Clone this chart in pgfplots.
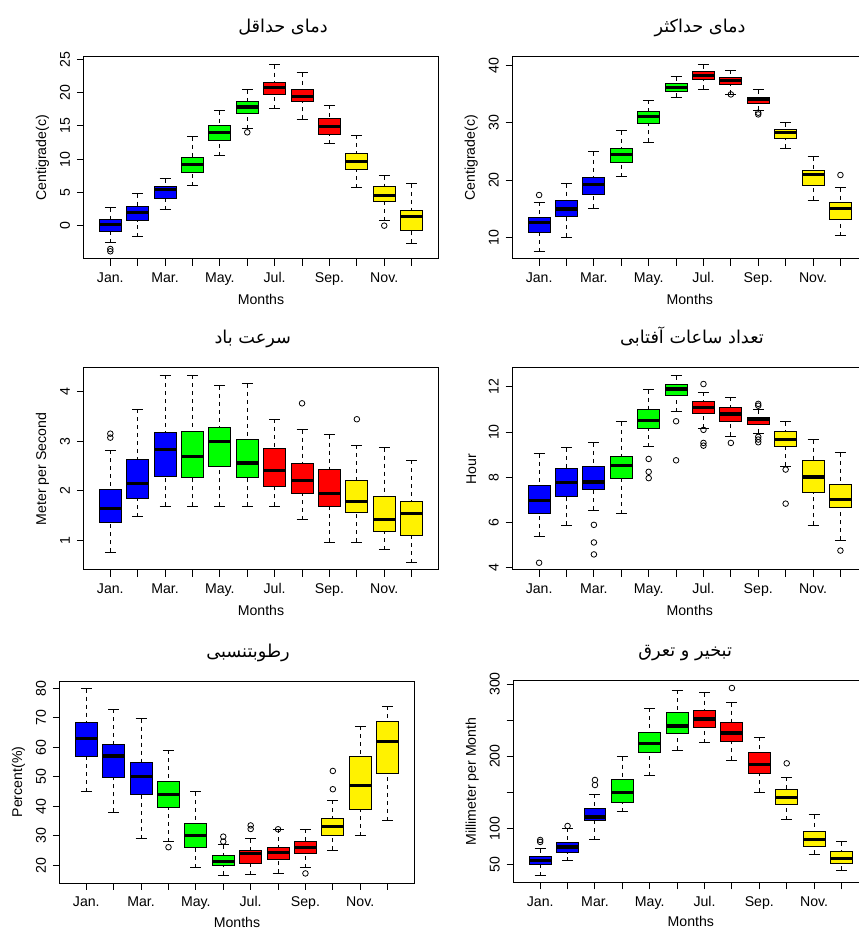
\documentclass[border=0pt]{standalone}
\usepackage{fontspec}
\setmainfont{Liberation Sans}
\newfontfamily\arabicfont[Script=Arabic]{DejaVu Sans}
\TeXXeTstate=1
\usepackage{pgfplots}
\pgfplotsset{compat=1.18}
\usepgfplotslibrary{statistics}
\newcommand\tk{\fontsize{10.6}{12}\selectfont}
\newcommand\tf{\arabicfont\fontsize{13.3}{15}\selectfont}
\pgfplotsset{
  boxplot/box extend=0.8,
  boxplot/whisker extend=0.4,
  boxplot/draw/median/.code={%
    \draw[line width=2.4pt,draw=black,solid,fill=none]
      (boxplot box cs:\pgfplotsboxplotvalue{median},0) --
      (boxplot box cs:\pgfplotsboxplotvalue{median},1);},
  boxplot/draw/lower whisker/.code={%
    \draw[line width=0.75pt,draw=black,dash pattern=on 3pt off 3pt,fill=none]
      (boxplot box cs:\pgfplotsboxplotvalue{lower whisker},0.5) --
      (boxplot box cs:\pgfplotsboxplotvalue{lower quartile},0.5);
    \draw[line width=0.75pt,draw=black,solid,fill=none]
      (boxplot whisker cs:\pgfplotsboxplotvalue{lower whisker},0) --
      (boxplot whisker cs:\pgfplotsboxplotvalue{lower whisker},1);},
  boxplot/draw/upper whisker/.code={%
    \draw[line width=0.75pt,draw=black,dash pattern=on 3pt off 3pt,fill=none]
      (boxplot box cs:\pgfplotsboxplotvalue{upper whisker},0.5) --
      (boxplot box cs:\pgfplotsboxplotvalue{upper quartile},0.5);
    \draw[line width=0.75pt,draw=black,solid,fill=none]
      (boxplot whisker cs:\pgfplotsboxplotvalue{upper whisker},0) --
      (boxplot whisker cs:\pgfplotsboxplotvalue{upper whisker},1);},
  boxplot/draw/box/.code={%
    \draw[line width=0.75pt,draw=black,solid]
      (boxplot box cs:\pgfplotsboxplotvalue{lower quartile},0) rectangle
      (boxplot box cs:\pgfplotsboxplotvalue{upper quartile},1);},
  bp/.style={boxplot/draw direction=y, fill=#1, draw=black, line width=0.75pt, solid,
    mark=o, mark size=2.1pt, mark options={solid, fill=none, draw=black, line width=0.6pt}},
  pan/.style={anchor=south west, scale only axis, width=266.25pt, height=151.5pt,
    xmin=0.02, xmax=12.98,
    xtick={1,...,12}, xticklabels={Jan.,,Mar.,,May.,,Jul.,,Sep.,,Nov.,},
    tick pos=left, tick align=outside, major tick length=5pt,
    every tick/.append style={black, line width=0.75pt},
    axis line style={line width=0.75pt, black},
    tick label style={font=\tk},
    yticklabel style={rotate=90, anchor=base},
    xticklabel style={anchor=base},
    xticklabel shift=12.8pt,
    yticklabel shift=5.2pt,
    xlabel={Months},
    xlabel style={at={(axis description cs:0.5,-0.2277)}, anchor=base, font=\tk},
    ylabel style={at={(axis description cs:-0.1155,0.5)}, anchor=center, font=\tk},
    title style={anchor=base, yshift=12pt, font=\tf},
    clip=true},
}
\begin{document}
\begin{tikzpicture}
\useasboundingbox (0,0) rectangle (643.5pt,697.5pt);
% ---------------- Panel 1: min temperature
\begin{axis}[pan, at={(62.6pt,503.25pt)}, ymin=-4.95, ymax=25.35,
  ytick={-5,0,5,10,15,20,25}, yticklabels={-5,0,5,10,15,20,25},
  ylabel={Centigrade(c)},
  title={\beginR دمای حداقل\endR}, title style={at={(axis description cs:0.562,1)}}]
\addplot[bp=blue, boxplot prepared={draw position=1, lower whisker=-2.5, lower quartile=-0.8, median=0.2, upper quartile=0.95, upper whisker=2.75}] coordinates {(0,-3.45) (0,-3.8)};
\addplot[bp=blue, boxplot prepared={draw position=2, lower whisker=-1.65, lower quartile=0.8, median=2.05, upper quartile=2.85, upper whisker=4.85}] coordinates {};
\addplot[bp=blue, boxplot prepared={draw position=3, lower whisker=2.45, lower quartile=4.15, median=5.45, upper quartile=5.85, upper whisker=7.1}] coordinates {};
\addplot[bp=green, boxplot prepared={draw position=4, lower whisker=6.0, lower quartile=8.0, median=9.25, upper quartile=10.25, upper whisker=13.35}] coordinates {};
\addplot[bp=green, boxplot prepared={draw position=5, lower whisker=10.55, lower quartile=12.8, median=14.05, upper quartile=15.0, upper whisker=17.3}] coordinates {};
\addplot[bp=green, boxplot prepared={draw position=6, lower whisker=14.6, lower quartile=16.85, median=17.85, upper quartile=18.7, upper whisker=20.4}] coordinates {(0,14.05)};
\addplot[bp=red, boxplot prepared={draw position=7, lower whisker=17.6, lower quartile=19.7, median=20.75, upper quartile=21.5, upper whisker=24.2}] coordinates {};
\addplot[bp=red, boxplot prepared={draw position=8, lower whisker=16.0, lower quartile=18.7, median=19.45, upper quartile=20.4, upper whisker=22.95}] coordinates {};
\addplot[bp=red, boxplot prepared={draw position=9, lower whisker=12.35, lower quartile=13.7, median=14.95, upper quartile=16.15, upper whisker=18.1}] coordinates {};
\addplot[bp=yellow, boxplot prepared={draw position=10, lower whisker=5.75, lower quartile=8.5, median=9.7, upper quartile=10.8, upper whisker=13.6}] coordinates {};
\addplot[bp=yellow, boxplot prepared={draw position=11, lower whisker=0.8, lower quartile=3.65, median=4.6, upper quartile=5.85, upper whisker=7.55}] coordinates {(0,0.05)};
\addplot[bp=yellow, boxplot prepared={draw position=12, lower whisker=-2.6, lower quartile=-0.65, median=1.45, upper quartile=2.25, upper whisker=6.3}] coordinates {};
\end{axis}
% ---------------- Panel 2: max temperature
\begin{axis}[pan, at={(384.2pt,503.25pt)}, ymin=6.2, ymax=41.55,
  ytick={10,20,30,40}, yticklabels={10,20,30,40},
  ylabel={Centigrade(c)},
  title={\beginR دمای حداکثر\endR}, title style={at={(axis description cs:0.529,1)}}]
\addplot[bp=blue, boxplot prepared={draw position=1, lower whisker=7.5, lower quartile=10.8, median=12.55, upper quartile=13.5, upper whisker=16.1}] coordinates {(0,17.4)};
\addplot[bp=blue, boxplot prepared={draw position=2, lower whisker=10.0, lower quartile=13.65, median=14.95, upper quartile=16.5, upper whisker=19.4}] coordinates {};
\addplot[bp=blue, boxplot prepared={draw position=3, lower whisker=15.05, lower quartile=17.5, median=19.25, upper quartile=20.5, upper whisker=24.95}] coordinates {};
\addplot[bp=green, boxplot prepared={draw position=4, lower whisker=20.55, lower quartile=23.0, median=24.45, upper quartile=25.55, upper whisker=28.6}] coordinates {};
\addplot[bp=green, boxplot prepared={draw position=5, lower whisker=26.6, lower quartile=29.85, median=31.1, upper quartile=32.0, upper whisker=34.0}] coordinates {};
\addplot[bp=green, boxplot prepared={draw position=6, lower whisker=34.5, lower quartile=35.55, median=36.25, upper quartile=36.95, upper whisker=38.1}] coordinates {};
\addplot[bp=red, boxplot prepared={draw position=7, lower whisker=35.9, lower quartile=37.6, median=38.35, upper quartile=38.95, upper whisker=40.2}] coordinates {};
\addplot[bp=red, boxplot prepared={draw position=8, lower whisker=35.0, lower quartile=36.8, median=37.5, upper quartile=37.95, upper whisker=39.25}] coordinates {(0,35.0)};
\addplot[bp=red, boxplot prepared={draw position=9, lower whisker=32.25, lower quartile=33.4, median=34.05, upper quartile=34.45, upper whisker=35.85}] coordinates {(0,31.8) (0,31.5)};
\addplot[bp=yellow, boxplot prepared={draw position=10, lower whisker=25.55, lower quartile=27.3, median=28.3, upper quartile=28.85, upper whisker=30.05}] coordinates {};
\addplot[bp=yellow, boxplot prepared={draw position=11, lower whisker=16.5, lower quartile=19.0, median=21.0, upper quartile=21.65, upper whisker=24.05}] coordinates {};
\addplot[bp=yellow, boxplot prepared={draw position=12, lower whisker=10.3, lower quartile=13.15, median=15.1, upper quartile=16.1, upper whisker=18.7}] coordinates {(0,20.9)};
\end{axis}
% ---------------- Panel 3: wind speed
\begin{axis}[pan, at={(62.6pt,270pt)}, ymin=0.41, ymax=4.47,
  ytick={1,2,3,4}, yticklabels={1,2,3,4},
  ylabel={Meter per Second},
  title={\beginR سرعت باد\endR}, title style={at={(axis description cs:0.477,1)}}]
\addplot[bp=blue, boxplot prepared={draw position=1, lower whisker=0.77, lower quartile=1.36, median=1.64, upper quartile=2.03, upper whisker=2.82}] coordinates {(0,3.15) (0,3.07)};
\addplot[bp=blue, boxplot prepared={draw position=2, lower whisker=1.48, lower quartile=1.84, median=2.15, upper quartile=2.64, upper whisker=3.64}] coordinates {};
\addplot[bp=blue, boxplot prepared={draw position=3, lower whisker=1.69, lower quartile=2.28, median=2.83, upper quartile=3.18, upper whisker=4.32}] coordinates {};
\addplot[bp=green, boxplot prepared={draw position=4, lower whisker=1.69, lower quartile=2.26, median=2.69, upper quartile=3.20, upper whisker=4.32}] coordinates {};
\addplot[bp=green, boxplot prepared={draw position=5, lower whisker=1.69, lower quartile=2.49, median=2.99, upper quartile=3.28, upper whisker=4.11}] coordinates {};
\addplot[bp=green, boxplot prepared={draw position=6, lower whisker=1.69, lower quartile=2.26, median=2.56, upper quartile=3.03, upper whisker=4.15}] coordinates {};
\addplot[bp=red, boxplot prepared={draw position=7, lower whisker=1.69, lower quartile=2.09, median=2.41, upper quartile=2.85, upper whisker=3.44}] coordinates {};
\addplot[bp=red, boxplot prepared={draw position=8, lower whisker=1.42, lower quartile=1.95, median=2.21, upper quartile=2.56, upper whisker=3.23}] coordinates {(0,3.76)};
\addplot[bp=red, boxplot prepared={draw position=9, lower whisker=0.97, lower quartile=1.69, median=1.95, upper quartile=2.42, upper whisker=3.13}] coordinates {};
\addplot[bp=yellow, boxplot prepared={draw position=10, lower whisker=0.97, lower quartile=1.56, median=1.79, upper quartile=2.21, upper whisker=2.92}] coordinates {(0,3.44)};
\addplot[bp=yellow, boxplot prepared={draw position=11, lower whisker=0.82, lower quartile=1.18, median=1.42, upper quartile=1.89, upper whisker=2.87}] coordinates {};
\addplot[bp=yellow, boxplot prepared={draw position=12, lower whisker=0.56, lower quartile=1.11, median=1.54, upper quartile=1.78, upper whisker=2.62}] coordinates {};
\end{axis}
% ---------------- Panel 4: sunshine hours
\begin{axis}[pan, at={(384.2pt,270pt)}, ymin=3.89, ymax=12.84,
  ytick={4,6,8,10,12}, yticklabels={4,6,8,10,12},
  ylabel={Hour},
  title={\beginR تعداد ساعات آفتابی\endR}, title style={at={(axis description cs:0.506,1)}}]
\addplot[bp=blue, boxplot prepared={draw position=1, lower whisker=5.39, lower quartile=6.39, median=6.97, upper quartile=7.63, upper whisker=9.03}] coordinates {(0,4.21)};
\addplot[bp=blue, boxplot prepared={draw position=2, lower whisker=5.87, lower quartile=7.13, median=7.75, upper quartile=8.37, upper whisker=9.30}] coordinates {};
\addplot[bp=blue, boxplot prepared={draw position=3, lower whisker=6.54, lower quartile=7.47, median=7.79, upper quartile=8.46, upper whisker=9.52}] coordinates {(0,5.89) (0,5.11) (0,4.58)};
\addplot[bp=green, boxplot prepared={draw position=4, lower whisker=6.38, lower quartile=7.93, median=8.52, upper quartile=8.94, upper whisker=10.45}] coordinates {};
\addplot[bp=green, boxplot prepared={draw position=5, lower whisker=9.34, lower quartile=10.17, median=10.52, upper quartile=11.01, upper whisker=11.88}] coordinates {(0,8.81) (0,8.24) (0,7.96)};
\addplot[bp=green, boxplot prepared={draw position=6, lower whisker=10.91, lower quartile=11.63, median=11.91, upper quartile=12.13, upper whisker=12.50}] coordinates {(0,10.48) (0,8.75)};
\addplot[bp=red, boxplot prepared={draw position=7, lower whisker=10.16, lower quartile=10.83, median=11.08, upper quartile=11.34, upper whisker=11.76}] coordinates {(0,12.13) (0,10.10) (0,9.52) (0,9.40)};
\addplot[bp=red, boxplot prepared={draw position=8, lower whisker=9.82, lower quartile=10.45, median=10.80, upper quartile=11.07, upper whisker=11.54}] coordinates {(0,9.52)};
\addplot[bp=red, boxplot prepared={draw position=9, lower whisker=9.95, lower quartile=10.35, median=10.55, upper quartile=10.66, upper whisker=11.0}] coordinates {(0,11.25) (0,11.17) (0,9.79) (0,9.67) (0,9.55)};
\addplot[bp=yellow, boxplot prepared={draw position=10, lower whisker=8.49, lower quartile=9.34, median=9.67, upper quartile=10.04, upper whisker=10.45}] coordinates {(0,8.34) (0,6.83)};
\addplot[bp=yellow, boxplot prepared={draw position=11, lower whisker=5.87, lower quartile=7.31, median=8.01, upper quartile=8.75, upper whisker=9.67}] coordinates {};
\addplot[bp=yellow, boxplot prepared={draw position=12, lower whisker=5.21, lower quartile=6.67, median=7.01, upper quartile=7.66, upper whisker=9.09}] coordinates {(0,4.75)};
\end{axis}
% ---------------- Panel 5: relative humidity
\begin{axis}[pan, at={(44.6pt,35.25pt)}, ymin=13.95, ymax=82.55,
  ytick={20,30,40,50,60,70,80}, yticklabels={20,30,40,50,60,70,80},
  ylabel={Percent(\%)},
  xlabel style={at={(axis description cs:0.5,-0.218)}},
  title={\beginR رطوبتنسبی\endR}, title style={at={(axis description cs:0.531,1)}}]
\addplot[bp=blue, boxplot prepared={draw position=1, lower whisker=44.9, lower quartile=56.9, median=63.1, upper quartile=68.5, upper whisker=80.0}] coordinates {};
\addplot[bp=blue, boxplot prepared={draw position=2, lower whisker=37.9, lower quartile=49.7, median=57.1, upper quartile=60.9, upper whisker=73.0}] coordinates {};
\addplot[bp=blue, boxplot prepared={draw position=3, lower whisker=28.9, lower quartile=44.0, median=50.1, upper quartile=54.9, upper whisker=69.8}] coordinates {};
\addplot[bp=green, boxplot prepared={draw position=4, lower whisker=28.0, lower quartile=39.5, median=44.1, upper quartile=48.4, upper whisker=59.0}] coordinates {(0,26.1)};
\addplot[bp=green, boxplot prepared={draw position=5, lower whisker=19.1, lower quartile=26.0, median=30.0, upper quartile=34.0, upper whisker=44.9}] coordinates {};
\addplot[bp=green, boxplot prepared={draw position=6, lower whisker=16.5, lower quartile=20.0, median=21.2, upper quartile=23.2, upper whisker=26.9}] coordinates {(0,29.7) (0,28.0)};
\addplot[bp=red, boxplot prepared={draw position=7, lower whisker=16.8, lower quartile=20.7, median=24.1, upper quartile=25.0, upper whisker=28.9}] coordinates {(0,33.5) (0,32.3)};
\addplot[bp=red, boxplot prepared={draw position=8, lower whisker=17.2, lower quartile=22.0, median=24.3, upper quartile=26.1, upper whisker=32.2}] coordinates {(0,32.2)};
\addplot[bp=red, boxplot prepared={draw position=9, lower whisker=19.1, lower quartile=24.1, median=26.1, upper quartile=28.0, upper whisker=32.2}] coordinates {(0,17.2)};
\addplot[bp=yellow, boxplot prepared={draw position=10, lower whisker=25.1, lower quartile=30.1, median=33.1, upper quartile=35.9, upper whisker=42.1}] coordinates {(0,52.0) (0,45.8)};
\addplot[bp=yellow, boxplot prepared={draw position=11, lower whisker=30.0, lower quartile=39.0, median=47.0, upper quartile=56.9, upper whisker=67.1}] coordinates {};
\addplot[bp=yellow, boxplot prepared={draw position=12, lower whisker=35.1, lower quartile=51.0, median=61.9, upper quartile=68.9, upper whisker=73.9}] coordinates {};
\end{axis}
% ---------------- Panel 6: evapotranspiration
\begin{axis}[pan, at={(385pt,35.5pt)}, ymin=24.6, ymax=304.7,
  ytick={50,100,150,200,250,300}, yticklabels={50,100,,200,,300},
  ylabel={Millimeter per Month},
  xlabel style={at={(axis description cs:0.5,-0.218)}},
  title={\beginR تبخیر و تعرق\endR}, title style={at={(axis description cs:0.484,1)}}]
\addplot[bp=blue, boxplot prepared={draw position=1, lower whisker=34.4, lower quartile=49.2, median=55.2, upper quartile=61.2, upper whisker=71.4}] coordinates {(0,83.8) (0,81.1)};
\addplot[bp=blue, boxplot prepared={draw position=2, lower whisker=54.7, lower quartile=66.3, median=74.1, upper quartile=80.6, upper whisker=100}] coordinates {(0,103.2)};
\addplot[bp=blue, boxplot prepared={draw position=3, lower whisker=84.3, lower quartile=110.6, median=115.7, upper quartile=127.3, upper whisker=147.1}] coordinates {(0,167) (0,160)};
\addplot[bp=green, boxplot prepared={draw position=4, lower whisker=123.1, lower quartile=135.1, median=149.9, upper quartile=167.4, upper whisker=199.3}] coordinates {};
\addplot[bp=green, boxplot prepared={draw position=5, lower whisker=173.0, lower quartile=205.3, median=217.8, upper quartile=232.6, upper whisker=266.7}] coordinates {};
\addplot[bp=green, boxplot prepared={draw position=6, lower whisker=208.5, lower quartile=231.6, median=241.8, upper quartile=260.7, upper whisker=291.7}] coordinates {};
\addplot[bp=red, boxplot prepared={draw position=7, lower whisker=218.7, lower quartile=239.5, median=251.5, upper quartile=264.0, upper whisker=288.0}] coordinates {};
\addplot[bp=red, boxplot prepared={draw position=8, lower whisker=194.2, lower quartile=221.0, median=232.1, upper quartile=247.3, upper whisker=274.1}] coordinates {(0,294.5)};
\addplot[bp=red, boxplot prepared={draw position=9, lower whisker=149.9, lower quartile=176.2, median=188.2, upper quartile=205.3, upper whisker=226.1}] coordinates {};
\addplot[bp=yellow, boxplot prepared={draw position=10, lower whisker=112.0, lower quartile=132.8, median=142.5, upper quartile=153.6, upper whisker=171.1}] coordinates {(0,190.1)};
\addplot[bp=yellow, boxplot prepared={draw position=11, lower whisker=64.0, lower quartile=74.1, median=84.8, upper quartile=94.9, upper whisker=118.5}] coordinates {};
\addplot[bp=yellow, boxplot prepared={draw position=12, lower whisker=41.8, lower quartile=51.5, median=58.4, upper quartile=68.1, upper whisker=81.1}] coordinates {};
\end{axis}
\end{tikzpicture}
\end{document}
